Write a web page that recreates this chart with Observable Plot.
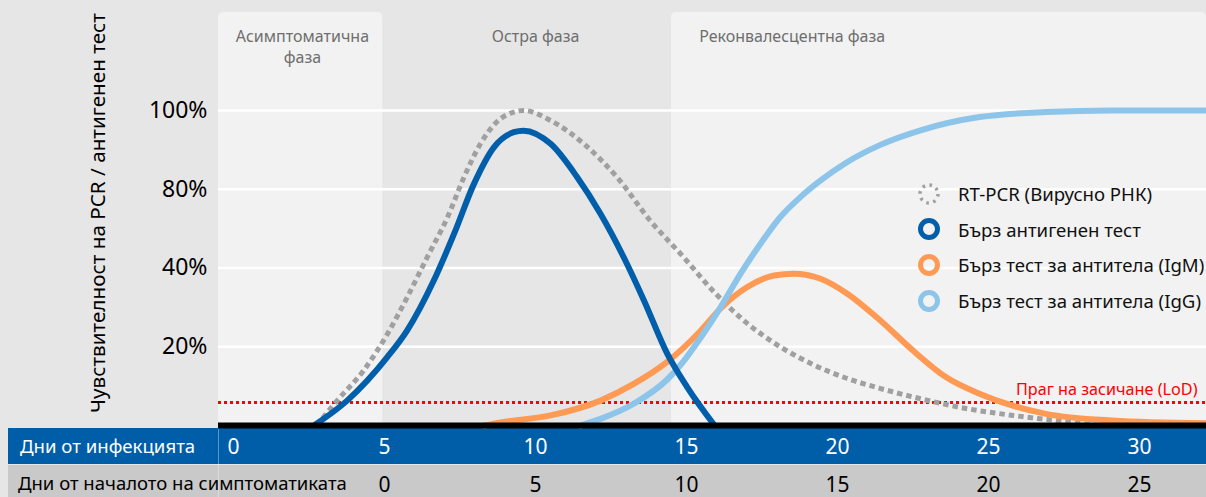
<!DOCTYPE html>
<html>
<head>
<meta charset="utf-8">
<script src="https://cdn.jsdelivr.net/npm/d3@7"></script>
<script src="https://cdn.jsdelivr.net/npm/@observablehq/plot@0.6"></script>
<style>
  html, body { margin: 0; padding: 0; background: #e6e6e6; }
  #wrap { position: relative; width: 1206px; height: 497px; overflow: hidden; font-family: "Noto Sans", sans-serif; background: #e6e6e6; }
  .row { position: absolute; left: 8px; right: 0; box-sizing: border-box; }
  #rowInf { top: 428px; height: 36px; background: #005ea8; }
  #rowSym { top: 465px; height: 32px; background: #c9c9c9; }
  .rowSep { position: absolute; left: 218px; width: 1px; background: rgba(255,255,255,0.35); }
  .rowTitle { position: absolute; white-space: nowrap; }
  #titleInf { left: 20px; top: 433px; color: #fff; font-size: 18.6px; }
  #titleSym { left: 18px; top: 470px; color: #000; font-size: 18.5px; }
  #chart { position: absolute; left: 0; top: 0; }
  #legend { position: absolute; left: 916px; top: 176px; }
  .item { display: flex; align-items: center; height: 35.6px; white-space: nowrap; font-size: 18.6px; color: #111; }
  .item svg { width: 26px; height: 26px; margin-right: 16px; flex: none; }
</style>
</head>
<body>
<div id="wrap">
  <div class="row" id="rowInf"></div>
  <div class="row" id="rowSym"></div>
  <div class="rowSep" style="top:428px;height:69px;"></div>
  <div class="rowTitle" id="titleInf">Дни от инфекцията</div>
  <div class="rowTitle" id="titleSym">Дни от началото на симптоматиката</div>
  <div id="chart"></div>
  <div id="legend"></div>
</div>
<script>
// ---- data ----
const phaseNames = ["Асимптоматична\nфаза", "Остра фаза", "Реконвалесцентна фаза"];
const phaseStarts = [-0.5, 4.95, 14.5];
const phaseEnds = [4.95, 14.5, 32.22];
const phaseLabelDays = [2.28, 10.0, 18.5];

const yTicks = [25, 50, 75, 100];
const yTickLabels = ["20%", "40%", "80%", "100%"];
const yTitle = "Чувствителност на PCR / антигенен тест";

const infectionTicks = [0, 5, 10, 15, 20, 25, 30];
const symptomTicks = [0, 5, 10, 15, 20, 25];
const symptomOnsetDay = 5;

const lodValue = 7.3;
const lodLabel = "Праг на засичане (LoD)";

const seriesNames = ["RT-PCR (Вирусно РНК)", "Бърз антигенен тест", "Бърз тест за антитела (IgM)", "Бърз тест за антитела (IgG)"];

const pcrDays = [2.75, 3.43, 4.31, 5.09, 5.75, 6.41, 7.08, 7.63, 8.18, 8.73, 9.28, 9.6, 10.5, 11.6, 12.7, 13.8, 14.85, 15.95, 17.0, 18.1, 19.2, 20.3, 21.4, 22.75, 24.2, 25.8, 27.0, 28.6];
const pcrVals = [0, 7.9, 17.5, 29, 40.7, 53.4, 66, 78.8, 89.5, 96.5, 99.5, 100, 96.8, 89.4, 78.8, 65, 54, 42, 32.5, 25, 19.3, 15, 11.8, 8.5, 5.5, 3.2, 1.8, 0];

const antigenDays = [2.66, 3.76, 5.09, 5.75, 6.63, 7.30, 7.96, 8.62, 9.28, 9.6, 10.5, 11.38, 12.15, 12.92, 13.59, 14.36, 15.02, 15.93];
const antigenVals = [0, 7.9, 21.7, 30.2, 46, 60.8, 76.7, 88.3, 93.1, 93.6, 89.4, 78.8, 67.2, 53.4, 39.7, 22.8, 12.2, 0];

const igmDays = [8.3, 8.84, 10.5, 12.15, 13.25, 14.36, 15.46, 16.13, 17.0, 17.9, 18.55, 19.44, 20.3, 21.4, 22.5, 23.6, 24.7, 25.8, 26.9, 29.1, 32.22];
const igmVals = [0, 1, 3.2, 7.9, 13.2, 20.2, 30.0, 37.2, 43.9, 47.6, 48.2, 46.6, 42, 33.5, 23.8, 15.3, 10.1, 6.3, 3.7, 1.6, 0.7];

const iggDays = [11.5, 12.15, 13.25, 14.36, 14.8, 15.46, 16.13, 16.79, 17.45, 18.1, 18.77, 19.44, 20.3, 21.4, 22.75, 24.7, 26.9, 29.1, 32.22];
const iggVals = [0, 2.1, 6.9, 14.6, 19.2, 27.8, 37.6, 48.2, 57.7, 66.1, 72.5, 77.8, 83.5, 89, 93.7, 97.9, 99.5, 100, 100];

// ---- build ----
const colors = { pcr: "#a0a0a0", antigen: "#005eaa", igm: "#ff9a55", igg: "#8dc4ea" };
const toRows = (days, vals) => days.map((d, i) => ({ day: d, value: vals[i] }));
const phases = phaseNames.map((name, i) => ({ name, start: phaseStarts[i], end: phaseEnds[i], labelDay: phaseLabelDays[i] }));
const yTop = 131.1;
const xDomain = [-0.5, 32.22];
const curve = "monotone-x";

const chart = Plot.plot({
  width: 1206,
  height: 497,
  marginLeft: 218,
  marginRight: 0,
  marginTop: 12,
  marginBottom: 72,
  x: { domain: xDomain },
  y: { domain: [0, yTop] },
  style: { background: "transparent", fontFamily: "'Noto Sans', sans-serif", overflow: "visible" },
  marks: [
    Plot.rect(phases.filter((d, i) => i !== 1), { x1: "start", x2: "end", y1: 0, y2: yTop, fill: "#f2f2f2", rx: 5 }),
    Plot.rect(phases.filter((d, i) => i === 1), { x1: "start", x2: "end", y1: 0, y2: yTop, fill: "#e6e6e6" }),
    Plot.ruleY(yTicks, { stroke: "#ffffff", strokeWidth: 2.5 }),
    Plot.ruleY([lodValue], { stroke: "#ff0000", strokeWidth: 3, strokeDasharray: "3,3" }),
    Plot.line(toRows(pcrDays, pcrVals), { x: "day", y: "value", stroke: colors.pcr, strokeWidth: 5, strokeDasharray: "5.5,4", strokeLinecap: "butt", curve }),
    Plot.line(toRows(igmDays, igmVals), { x: "day", y: "value", stroke: colors.igm, strokeWidth: 6, curve }),
    Plot.line(toRows(iggDays, iggVals), { x: "day", y: "value", stroke: colors.igg, strokeWidth: 6, curve }),
    Plot.line(toRows(antigenDays, antigenVals), { x: "day", y: "value", stroke: colors.antigen, strokeWidth: 6, curve }),
    Plot.ruleY([0], { stroke: "#000000", strokeWidth: 6 }),
    Plot.axisY({ ticks: yTicks, tickFormat: (d) => yTickLabels[yTicks.indexOf(d)], tickSize: 0, tickPadding: 11, fontSize: 23, fill: "#000", label: null }),
    Plot.axisX({ ticks: infectionTicks, tickFormat: (d) => String(d), tickSize: 0, tickPadding: 14, fontSize: 21, fill: "#ffffff", label: null }),
    Plot.axisX({ ticks: symptomTicks.map((d) => d + symptomOnsetDay), tickFormat: (d) => String(d - symptomOnsetDay), tickSize: 0, tickPadding: 52, fontSize: 21, fill: "#000000", label: null }),
    Plot.text(phases, { x: "labelDay", y: yTop, text: "name", lineAnchor: "top", dy: 14, fontSize: 16, lineHeight: 1.33, fill: "#6e6e6e" }),
    Plot.text([lodLabel], { x: xDomain[1], y: lodValue, text: (d) => d, textAnchor: "end", dx: -9, dy: -13, fontSize: 16.2, fill: "#ff0000" }),
    Plot.text([yTitle], { frameAnchor: "left", text: (d) => d, rotate: -90, textAnchor: "middle", lineAnchor: "middle", dx: -120, dy: -6, fontSize: 20.7, fill: "#000" })
  ]
});
document.getElementById("chart").appendChild(chart);

// legend
const legend = document.getElementById("legend");
const legendStyles = [
  { color: colors.pcr, dotted: true },
  { color: colors.antigen },
  { color: colors.igm },
  { color: colors.igg }
];
seriesNames.forEach((name, i) => {
  const s = legendStyles[i];
  const item = document.createElement("div");
  item.className = "item";
  const circle = s.dotted
    ? `<circle cx="13" cy="13" r="9" fill="none" stroke="${s.color}" stroke-width="3.5" stroke-dasharray="2.6,4.5"/>`
    : `<circle cx="13" cy="13" r="8.5" fill="none" stroke="${s.color}" stroke-width="5"/>`;
  item.innerHTML = `<svg viewBox="0 0 26 26">${circle}</svg><span>${name}</span>`;
  legend.appendChild(item);
});
</script>
</body>
</html>
